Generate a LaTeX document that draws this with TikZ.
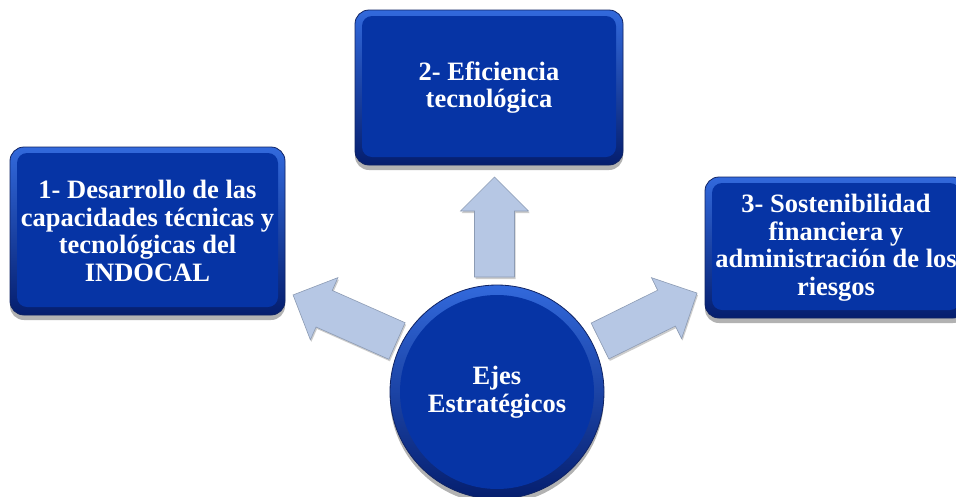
\documentclass[tikz,border=0pt]{standalone}
\usepackage{fontspec}
\setmainfont{Liberation Serif}
\usetikzlibrary{shadows}
\definecolor{bxdark}{RGB}{6,52,165}
\definecolor{bxlight}{RGB}{50,105,220}
\definecolor{bxbottom}{RGB}{5,30,110}
\definecolor{bxedge}{RGB}{15,35,100}
\definecolor{arrfill}{RGB}{182,199,228}
\definecolor{arredge}{RGB}{140,155,180}
\newcommand{\blockarrow}[4]{%
  \begin{scope}[shift={(#1,#2)},rotate=#3]
    \draw[arrowshape] (0pt,-20pt) -- ({#4pt-34pt},-20pt) -- ({#4pt-34pt},-34pt) -- (#4pt,0pt)
      -- ({#4pt-34pt},34pt) -- ({#4pt-34pt},20pt) -- (0pt,20pt) -- cycle;
  \end{scope}}
\begin{document}
\begin{tikzpicture}[x=1pt,y=-1pt,
  txt/.style={text=white, font=\bfseries\fontsize{26.5}{27.5}\selectfont, align=center},
  bevelbox/.style={rounded corners=14pt, draw=bxedge, line width=0.8pt,
    top color=bxlight, bottom color=bxbottom,
    drop shadow={shadow xshift=0pt,shadow yshift=-5pt,opacity=0.3,fill=black},
    txt, inner sep=0pt,
    path picture={\fill[bxdark, rounded corners=10pt]
      ([shift={(7pt,-6pt)}]path picture bounding box.north west) rectangle
      ([shift={(-7pt,8pt)}]path picture bounding box.south east);}},
  bevelcircle/.style={circle, draw=bxedge, line width=0.8pt,
    top color=bxlight, bottom color=bxbottom,
    drop shadow={shadow xshift=0pt,shadow yshift=-5pt,opacity=0.3,fill=black},
    txt, inner sep=0pt,
    path picture={\fill[bxdark] (path picture bounding box.center) circle[radius=97pt];}},
  arrowshape/.style={fill=arrfill, draw=arredge, line width=0.6pt,
    drop shadow={shadow xshift=1pt,shadow yshift=-2pt,opacity=0.2,fill=black}}
]
\useasboundingbox (0,0) rectangle (956,496);
\clip (0,0) rectangle (956,496);
\fill[white] (0,0) rectangle (956,496);

% block arrows
\blockarrow{494.5}{277}{90}{100}
\blockarrow{397}{341}{156.1}{113.7}
\blockarrow{600}{341}{26.3}{108.2}

% boxes
\node[bevelbox, minimum width=275, minimum height=168] (b1) at (147.5,231)
  {1- Desarrollo de las\\capacidades técnicas y\\tecnológicas del\\INDOCAL};
\node[bevelbox, minimum width=268, minimum height=155] (b2) at (489,87.5)
  {2- Eficiencia\\tecnológica};
\node[bevelbox, minimum width=262, minimum height=141] (b3) at (836,247.5)
  {3- Sostenibilidad\\financiera y\\administración de los\\riesgos};

% centre
\node[bevelcircle, minimum size=214] (c) at (497,392) {Ejes\\Estratégicos};
\end{tikzpicture}
\end{document}
